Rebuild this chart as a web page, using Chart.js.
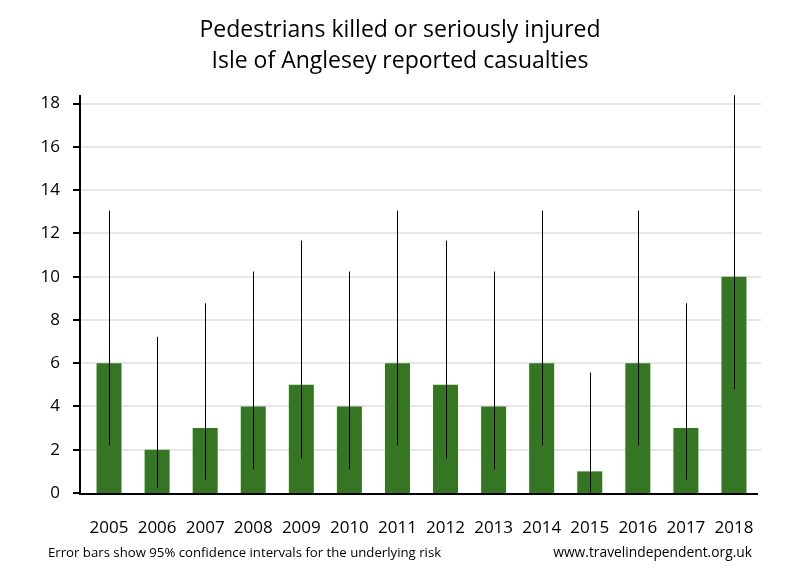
<!DOCTYPE html>
<html>
<head>
<meta charset="utf-8">
<script src="https://cdn.jsdelivr.net/npm/chart.js@4"></script>
<style>
  body { margin: 0; background: #fff; }
  #wrap { width: 800px; height: 580px; }
</style>
</head>
<body>
<div id="wrap"><canvas id="myChart" width="800" height="580"></canvas></div>
<script>
const years = ['2005', '2006', '2007', '2008', '2009', '2010', '2011', '2012', '2013', '2014', '2015', '2016', '2017', '2018'];
const casualties = [6, 2, 3, 4, 5, 4, 6, 5, 4, 6, 1, 6, 3, 10];
const ciLow = [2.2, 0.24, 0.62, 1.09, 1.62, 1.09, 2.2, 1.62, 1.09, 2.2, 0.03, 2.2, 0.62, 4.8];
const ciHigh = [13.06, 7.22, 8.77, 10.24, 11.67, 10.24, 13.06, 11.67, 10.24, 13.06, 5.57, 13.06, 8.77, 18.39];
const yTicks = [0, 2, 4, 6, 8, 10, 12, 14, 16, 18];

const FONT = '"Open Sans", "Noto Sans", sans-serif';

// grid, axes, error bars and texts
const extras = {
  id: 'extras',
  beforeDatasetsDraw(chart) {
    const c = chart.ctx;
    const y = chart.scales.y;
    const area = chart.chartArea;
    c.save();
    c.strokeStyle = '#e6e6e6';
    c.lineWidth = 2;
    yTicks.forEach(function (t) {
      if (t === 0) return;
      const py = Math.round(y.getPixelForValue(t));
      c.beginPath();
      c.moveTo(area.left - 5, py);
      c.lineTo(area.right + 3, py);
      c.stroke();
    });
    c.restore();
  },
  afterDatasetsDraw(chart) {
    const c = chart.ctx;
    const x = chart.scales.x;
    const y = chart.scales.y;
    const area = chart.chartArea;
    c.save();
    // error bars
    c.strokeStyle = '#000';
    c.lineWidth = 1;
    years.forEach(function (yr, i) {
      const px = Math.round(x.getPixelForValue(i)) + 0.5;
      c.beginPath();
      c.moveTo(px, y.getPixelForValue(ciLow[i]));
      c.lineTo(px, y.getPixelForValue(ciHigh[i]));
      c.stroke();
    });
    // axes
    c.lineWidth = 2;
    const ax = area.left - 5;
    c.beginPath();
    c.moveTo(ax, area.top);
    c.lineTo(ax, area.bottom + 1);
    c.lineTo(area.right, area.bottom + 1);
    c.stroke();
    yTicks.forEach(function (t) {
      const py = Math.round(y.getPixelForValue(t));
      c.beginPath();
      c.moveTo(ax - 7, py);
      c.lineTo(ax, py);
      c.stroke();
    });
    // titles
    c.fillStyle = '#000';
    c.textAlign = 'center';
    c.textBaseline = 'middle';
    c.font = '23px ' + FONT;
    c.fillText('Pedestrians killed or seriously injured', 400, 30);
    c.fillText('Isle of Anglesey reported casualties', 400, 61);
    // footer
    c.font = '13.2px ' + FONT;
    c.textAlign = 'left';
    c.fillText('Error bars show 95% confidence intervals for the underlying risk', 48, 553);
    c.textAlign = 'right';
    c.font = '13.8px ' + FONT;
    c.fillText('www.travelindependent.org.uk', 752, 553);
    c.restore();
  }
};

const ctx = document.getElementById('myChart').getContext('2d');
const myChart = new Chart(ctx, {
  type: 'bar',
  data: {
    labels: years,
    datasets: [
      {
        label: 'Casualties',
        backgroundColor: '#367523',
        categoryPercentage: 1,
        barPercentage: 0.52,
        data: casualties,
      },
    ],
  },
  options: {
    responsive: false,
    animation: false,
    layout: {
      padding: { top: 95, right: 42, left: 0, bottom: 0 },
    },
    plugins: {
      legend: { display: false },
      tooltip: { enabled: false },
    },
    scales: {
      x: {
        grid: { display: false },
        border: { display: false },
        afterFit: function (scale) { scale.height = 87; },
        ticks: {
          color: '#000',
          padding: 17,
          font: { family: FONT, size: 17 },
        },
      },
      y: {
        min: 0,
        max: 18.4,
        grid: { display: false },
        border: { display: false },
        afterFit: function (scale) { scale.width = 85; },
        afterBuildTicks: function (scale) {
          scale.ticks = yTicks.map(function (v) { return { value: v }; });
        },
        ticks: {
          color: '#000',
          padding: 17,
          font: { family: FONT, size: 17 },
        },
      },
    },
  },
  plugins: [extras],
});
</script>
</body>
</html>
